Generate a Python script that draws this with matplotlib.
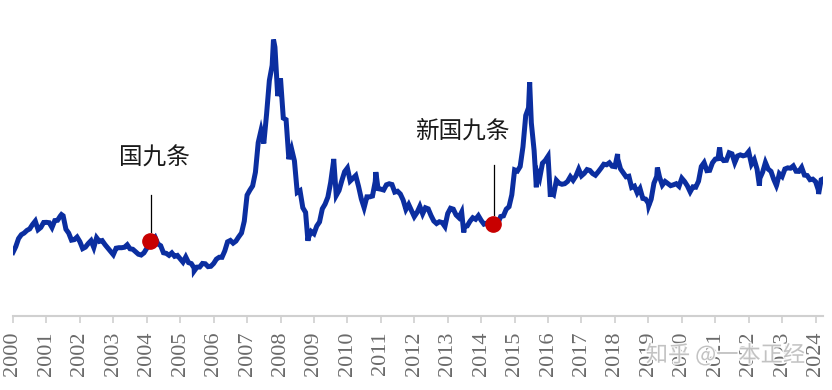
import matplotlib.pyplot as plt
import matplotlib.patheffects as pe
import numpy as np

plt.rcParams['font.serif'] = ['Liberation Serif', 'DejaVu Serif']

# Shanghai Composite, month-end closes
years = list(range(2000, 2025))
monthly = {
    2000: [1535, 1714, 1800, 1836, 1894, 1928, 2023, 2101, 1911, 1961, 2070, 2073],
    2001: [2065, 1959, 2112, 2119, 2214, 2218, 1920, 1834, 1678, 1690, 1747, 1646],
    2002: [1491, 1524, 1603, 1667, 1515, 1732, 1651, 1669, 1581, 1507, 1433, 1357],
    2003: [1500, 1511, 1511, 1521, 1576, 1487, 1476, 1421, 1367, 1349, 1397, 1497],
    2004: [1590, 1675, 1742, 1595, 1555, 1399, 1386, 1342, 1396, 1320, 1340, 1266],
    2005: [1191, 1306, 1181, 1159, 1060, 1080, 1083, 1162, 1155, 1092, 1099, 1161],
    2006: [1258, 1299, 1298, 1440, 1641, 1672, 1612, 1658, 1752, 1837, 2099, 2675],
    2007: [2786, 2881, 3183, 3841, 4109, 3820, 4471, 5218, 5552, 5955, 4871, 5262],
    2008: [4383, 4348, 3473, 3693, 3433, 2736, 2775, 2397, 2293, 1729, 1871, 1821],
    2009: [1991, 2082, 2373, 2477, 2633, 2959, 3412, 2668, 2779, 2996, 3195, 3277],
    2010: [2989, 3051, 3110, 2870, 2592, 2398, 2638, 2638, 2656, 2979, 2820, 2808],
    2011: [2790, 2905, 2928, 2911, 2743, 2762, 2701, 2568, 2359, 2468, 2333, 2199],
    2012: [2292, 2428, 2262, 2396, 2372, 2225, 2103, 2047, 2086, 2068, 1980, 2269],
    2013: [2385, 2365, 2237, 2177, 2301, 1979, 1994, 2098, 2175, 2141, 2220, 2116],
    2014: [2033, 2056, 2033, 2026, 2039, 2048, 2202, 2217, 2364, 2420, 2683, 3235],
    2015: [3210, 3311, 3748, 4442, 4612, 4277, 3664, 3206, 3053, 3383, 3445, 3539],
    2016: [2738, 2688, 3004, 2938, 2917, 2930, 2979, 3085, 3005, 3100, 3250, 3104],
    2017: [3159, 3242, 3223, 3155, 3117, 3192, 3273, 3361, 3349, 3393, 3317, 3307],
    2018: [3481, 3259, 3169, 3082, 3095, 2847, 2876, 2725, 2821, 2603, 2588, 2494],
    2019: [2585, 2941, 3091, 3078, 2899, 2979, 2933, 2886, 2905, 2929, 2872, 3050],
    2020: [2977, 2880, 2750, 2860, 2852, 2985, 3310, 3396, 3218, 3225, 3392, 3473],
    2021: [3483, 3509, 3442, 3447, 3615, 3591, 3397, 3544, 3568, 3547, 3564, 3640],
    2022: [3361, 3462, 3252, 3047, 3186, 3399, 3253, 3202, 3024, 2893, 3151, 3089],
    2023: [3255, 3280, 3273, 3323, 3205, 3202, 3291, 3120, 3110, 3018, 3030, 2975],
    2024: [2789, 3015, 3041, 3105],
}

# highs / lows between month ends (decimal year, level)
extreme_x = [2000.0, 2001.45, 2005.42, 2007.79, 2008.82, 2009.59, 2010.85,
             2013.48, 2015.45, 2015.65, 2016.07, 2018.08, 2019.01, 2019.27,
             2021.13, 2022.32, 2022.83, 2024.09]
extreme_y = [1407, 2245, 998, 6124, 1664, 3478, 3186,
             1849, 5178, 2850, 2638, 3587, 2440, 3288,
             3731, 2886, 2886, 2702]

# policy events
event_x = [2004.09, 2014.35]
event_y = [1650, 2040]
event_labels = ["国九条", "新国九条"]
label_x = [2004.24, 2013.43]
label_y = [3230, 3830]
stem_top = [2680, 3345]

x = []
y = []
for yr in years:
    for m, v in enumerate(monthly[yr]):
        x.append(yr + (m + 1) / 12)
        y.append(v)
x = np.array(x + extreme_x)
y = np.array(y + extreme_y)
order = np.argsort(x)
x, y = x[order], y[order]

fig = plt.figure(figsize=(8.32, 3.9), dpi=100)
ax = fig.add_axes([0.0156, 0.19, 0.9735, 0.81])

ax.plot(x, y, color='#0b2ea0', lw=3.6, solid_joinstyle='miter', zorder=2)
ax.plot(event_x, event_y, 'o', color='#c80000', ms=11, zorder=3)

for ex, ey, lab, lx, ly, st in zip(event_x, event_y, event_labels, label_x, label_y, stem_top):
    ax.plot([ex + 0.03, ex + 0.03], [ey + 200, st], color='black', lw=0.9, zorder=1)
    ax.text(lx, ly, lab, ha='center', va='bottom', fontsize=17,
            family=['Noto Sans CJK SC', 'DejaVu Sans'], color='#1a1a1a')

ax.set_xlim(2000, 2024.22)
ax.set_ylim(0, 7000)
ax.set_xticks(years)
ax.set_xticklabels([str(v) for v in years], rotation=90, fontsize=16,
                   family='serif', color='#6a6a6a')
ax.tick_params(axis='x', length=5, color='#d0d0d0', width=1.2, pad=6)
ax.set_yticks([])
for s in ['top', 'right', 'left']:
    ax.spines[s].set_visible(False)
ax.spines['bottom'].set_color('#d0d0d0')
ax.spines['bottom'].set_linewidth(1.5)

fig.text(0.872, 0.09, "知乎 @一本正经", ha='center', va='center', fontsize=16,
         family=['Noto Sans CJK SC', 'DejaVu Sans'], color='#bdbdbd', alpha=0.9,
         path_effects=[pe.withStroke(linewidth=2, foreground='white')], zorder=5)

fig.savefig('out.png', dpi=100)
